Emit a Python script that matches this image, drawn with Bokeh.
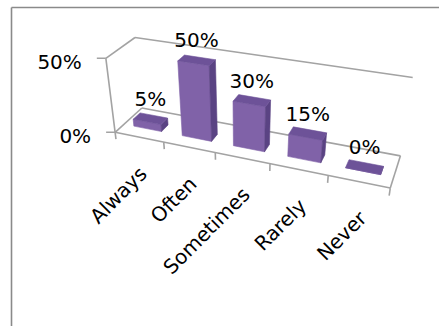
import numpy as np
from bokeh.plotting import figure
from bokeh.models import Range1d
from bokeh.embed import file_html
from bokeh.resources import INLINE
from bokeh.core.properties import value

# ---- data -------------------------------------------------------------
categories = ["Always", "Often", "Sometimes", "Rarely", "Never"]
shares = [5, 50, 30, 15, 0]          # percent of answers
y_ticks = [0, 50]
y_tick_labels = ["0%", "50%"]
y_max = 50

# ---- layout / style ----------------------------------------------------
W, H = 439, 326
FONT = "DejaVu Sans"
FS = "20px"
GRID = "#a3a3a3"
FRONT, TOP, SIDE, LEFT = "#8062a8", "#6d5298", "#5a4383", "#6a4f93"
BAR_U = (0.21, 0.79)     # bar extent inside a category slot
BAR_W = (0.32, 0.58)     # bar extent along the depth of the box

n = len(categories)

# Perspective camera for the 3-D plot box.  World coordinates:
# u = category slot (0..n), v = percent (0..y_max), w = depth (0 front, 1 back).
# It is fitted to where the box corners and slot boundaries sit on the page.
anchors = [((k, 0, 0), xy) for k, xy in
           enumerate([(115, 132), (164, 142), (214, 152), (269, 163), (327, 175), (391, 187)])]
anchors += [
    ((0, y_max, 0), (105, 58)),
    ((0, 0, 1), (141, 108)),
    ((n, 0, 1), (400, 155)),
    ((0, y_max, 1), (135, 36)),
    ((n, y_max, 1), (412, 78)),
]


def fit_camera(pts):
    wn = np.diag([1.0 / n, 1.0 / y_max, 1.0, 1.0])
    T = np.array([[1 / 150, 0, -250 / 150], [0, 1 / 150, -110 / 150], [0, 0, 1]])
    rows = []
    for (u, v, w), (x, y) in pts:
        X = wn @ np.array([u, v, w, 1.0])
        xs, ys, _ = T @ np.array([x, y, 1.0])
        rows.append(np.concatenate([X, np.zeros(4), -xs * X]))
        rows.append(np.concatenate([np.zeros(4), X, -ys * X]))
    _, _, vt = np.linalg.svd(np.array(rows))
    return np.linalg.inv(T) @ vt[-1].reshape(3, 4) @ wn


P = fit_camera(anchors)
_, _, vt = np.linalg.svd(P)
cam = vt[-1][:3] / vt[-1][3]          # camera centre in world coordinates


def proj(u, v, w):
    h = P @ np.array([u, v, w, 1.0])
    return float(h[0] / h[2]), float(h[1] / h[2])


p = figure(width=W, height=H, x_range=Range1d(0, W), y_range=Range1d(H, 0),
           x_axis_type=None, y_axis_type=None, toolbar_location=None,
           output_backend="svg", min_border=0, outline_line_color=None,
           background_fill_color="white", border_fill_color="white")
p.grid.visible = False

# chart area border
p.segment(x0=[11, 11], y0=[7, 7], x1=[11, W], y1=[H, 7], line_color="#8a8a8a", line_width=1.6)

# walls and floor outline
edges = [
    ((0, 0, 0), (0, y_max, 0)),
    ((0, y_max, 0), (0, y_max, 1)),
    ((0, 0, 0), (0, 0, 1)),
    ((0, y_max, 1), (n, y_max, 1)),
    ((0, 0, 0), (n, 0, 0)),
    ((0, 0, 1), (n, 0, 1)),
    ((n, 0, 0), (n, 0, 1)),
]
ex0, ey0, ex1, ey1 = [], [], [], []
for a, b in edges:
    (x0, y0), (x1, y1) = proj(*a), proj(*b)
    ex0.append(x0); ey0.append(y0); ex1.append(x1); ey1.append(y1)
# category tick marks under the front edge
for k in range(n + 1):
    (x0, y0), (x1, y1) = proj(k, 0, 0), proj(k, -5, 0)
    ex0.append(x0); ey0.append(y0); ex1.append(x1); ey1.append(y1)
# value tick marks left of the axis
for t in y_ticks:
    x0, y0 = proj(0, t, 0)
    ex0.append(x0 - 9); ey0.append(y0); ex1.append(x0); ey1.append(y0)
p.segment(x0=ex0, y0=ey0, x1=ex1, y1=ey1, line_color=GRID, line_width=1.6)

# bars as boxes, only the faces turned towards the camera
fx, fy, fc = [], [], []
for i, val in enumerate(shares):
    u0, u1 = i + BAR_U[0], i + BAR_U[1]
    w0, w1 = BAR_W
    v0, v1 = 0, val
    faces = []
    if cam[2] < w0:
        faces.append(([(u0, v0, w0), (u1, v0, w0), (u1, v1, w0), (u0, v1, w0)], FRONT))
    if cam[2] > w1:
        faces.append(([(u0, v0, w1), (u1, v0, w1), (u1, v1, w1), (u0, v1, w1)], FRONT))
    if cam[0] > u1:
        faces.append(([(u1, v0, w0), (u1, v0, w1), (u1, v1, w1), (u1, v1, w0)], SIDE))
    if cam[0] < u0:
        faces.append(([(u0, v0, w0), (u0, v0, w1), (u0, v1, w1), (u0, v1, w0)], LEFT))
    if cam[1] > v1:
        faces.append(([(u0, v1, w0), (u1, v1, w0), (u1, v1, w1), (u0, v1, w1)], TOP))
    for corners, col in faces:
        pts = [proj(*c) for c in corners]
        fx.append([q[0] for q in pts]); fy.append([q[1] for q in pts]); fc.append(col)
p.patches(xs=fx, ys=fy, fill_color=fc, line_color=fc, line_width=0.6)

# value labels above the bars
lx, ly, lt = [], [], []
for i, val in enumerate(shares):
    x, y = proj(i + 0.5, val, sum(BAR_W) / 2)
    lx.append(x); ly.append(y - 20); lt.append(f"{val}%")
p.text(x=lx, y=ly, text=lt, text_font=value(FONT), text_font_size=value(FS),
       text_align="center", text_baseline="middle", text_color="black")

# value axis labels
tx, ty = [], []
for t in y_ticks:
    x, y = proj(0, t, 0)
    tx.append(x - 24); ty.append(y + 4)
p.text(x=tx, y=ty, text=y_tick_labels, text_font=value(FONT), text_font_size=value(FS),
       text_align="right", text_baseline="middle", text_color="black")

# rotated category labels
cx, cy = [], []
for i in range(n):
    x, y = proj(i + 0.5, 0, 0)
    cx.append(x + 4); cy.append(y + 33)
p.text(x=cx, y=cy, text=categories, angle=np.pi / 4, text_font=value(FONT),
       text_font_size=value(FS), text_align="right", text_baseline="middle",
       text_color="black")

open("out.html", "w").write(file_html(p, INLINE))
